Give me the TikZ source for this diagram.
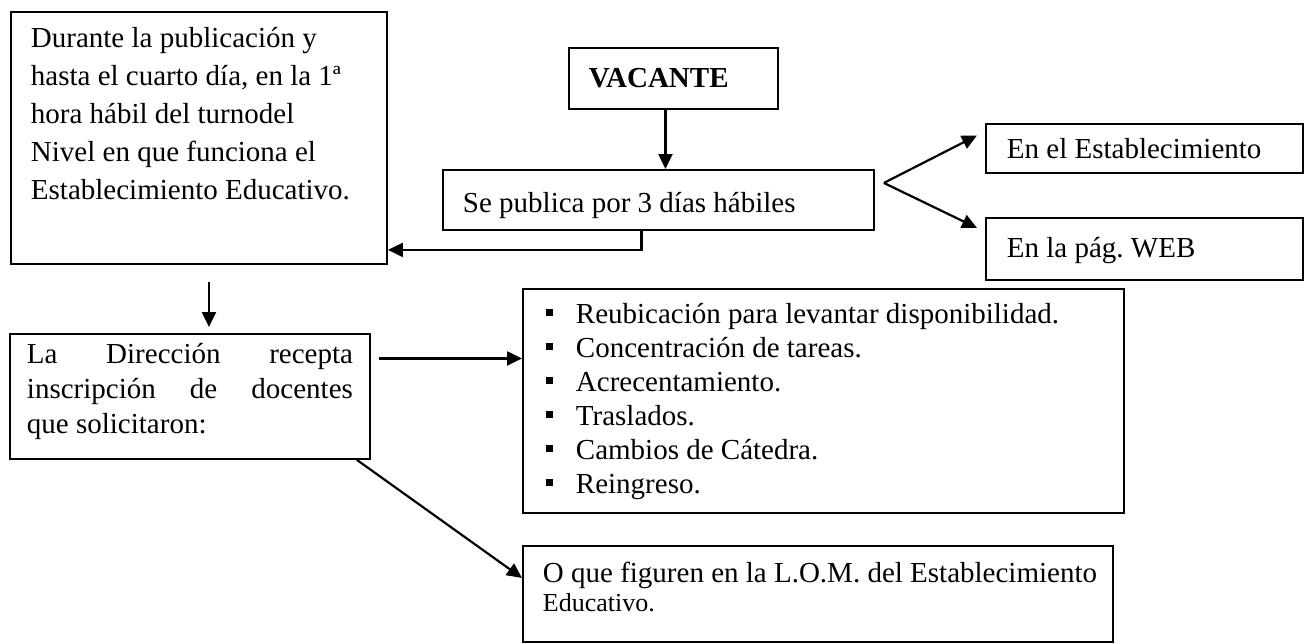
\documentclass[tikz,border=0pt]{standalone}
\usepackage{fontspec}
\setmainfont{Liberation Serif}
\usetikzlibrary{arrows.meta,positioning}
\frenchspacing
\tikzset{
    >={Triangle[length=15pt,width=14pt]},
    box/.style={
        rectangle,
        draw, line width=1.9pt,
        inner ysep=0pt,
        anchor=north west,
        align=justify,
        font={\fontsize{29pt}{38pt}\selectfont}
    },
    line/.style={draw, line width=2.2pt, ->},
}
\newcommand{\bul}{\makebox[30pt][l]{\rule[8pt]{7pt}{7pt}}}

\begin{document}
\begin{tikzpicture}[x=1pt,y=-1pt]
    \useasboundingbox (0,0) rectangle (1304,643);

    % Boxes
    \node[box, inner xsep=20pt, text width=336pt, text height=36pt, text depth=216pt] (dur) at (10,11)
        {Durante la publicación y\\hasta el cuarto día, en la 1ª\\hora hábil del turnodel\\Nivel en que funciona el\\Establecimiento Educativo.};
    \node[box, inner xsep=20pt, text width=169pt, text height=40pt, text depth=21pt] (vac) at (568,47)
        {\bfseries VACANTE};
    \node[box, inner xsep=20pt, text width=391pt, text height=43pt, text depth=17pt] (pub) at (442,169)
        {Se publica por 3 días hábiles};
    \node[box, inner xsep=21pt, text width=275pt, text height=35pt, text depth=14pt] (est) at (985,123)
        {En el Establecimiento};
    \node[box, inner xsep=21pt, text width=275pt, text height=40pt, text depth=22pt] (web) at (985,217)
        {En la pág. WEB};
    \node[box, inner xsep=17pt, text width=326pt, text height=30pt, text depth=95pt,
          font={\fontsize{29pt}{35pt}\selectfont}] (dir) at (9,333)
        {\makebox[326pt][s]{La Dirección recepta}\\\makebox[326pt][s]{inscripción de docentes}\\que solicitaron:};
    \node[box, inner xsep=23pt, text width=555pt, text height=35pt, text depth=189pt,
          font={\fontsize{29pt}{34pt}\selectfont}] (lst) at (522,288)
        {\bul Reubicación para levantar disponibilidad.\\
         \bul Concentración de tareas.\\
         \bul Acrecentamiento.\\
         \bul Traslados.\\
         \bul Cambios de Cátedra.\\
         \bul Reingreso.};
    \node[box, inner xsep=20pt, text width=550pt, text height=37pt, text depth=59pt,
          font={\fontsize{29pt}{29pt}\selectfont}] (lom) at (522,545)
        {\mbox{O que figuren en la L.O.M. del Establecimiento}\\{\fontsize{26pt}{29pt}\selectfont Educativo.}};

    % Connectors
    \coordinate (bend) at ([shift={(-17,19)}]pub.south);
    \coordinate (fork) at ([shift={(9,-17)}]pub.east);
    \coordinate (d1) at ([shift={(10,17)}]dur.south);
    \coordinate (h1) at ([shift={(8,-38)}]dir.east);

    \draw[line] ([shift={(-8,0)}]vac.south) -- ([shift={(-8,0)}]vac.south |- pub.north);
    \draw[line] (pub.south -| bend) |- (dur.east |- bend);
    \draw[line] (fork) -- ([shift={(-8,-13)}]est.west);
    \draw[line] (fork) -- ([shift={(-8,-21)}]web.west);
    \draw[line, shorten >=6pt] (d1) -- (d1 |- dir.north);
    \draw[line] (h1) -- (lst.west |- h1);
    \draw[line] ([shift={(-14,0)}]dir.south east) -- ([shift={(0,-16)}]lom.west);
\end{tikzpicture}
\end{document}
